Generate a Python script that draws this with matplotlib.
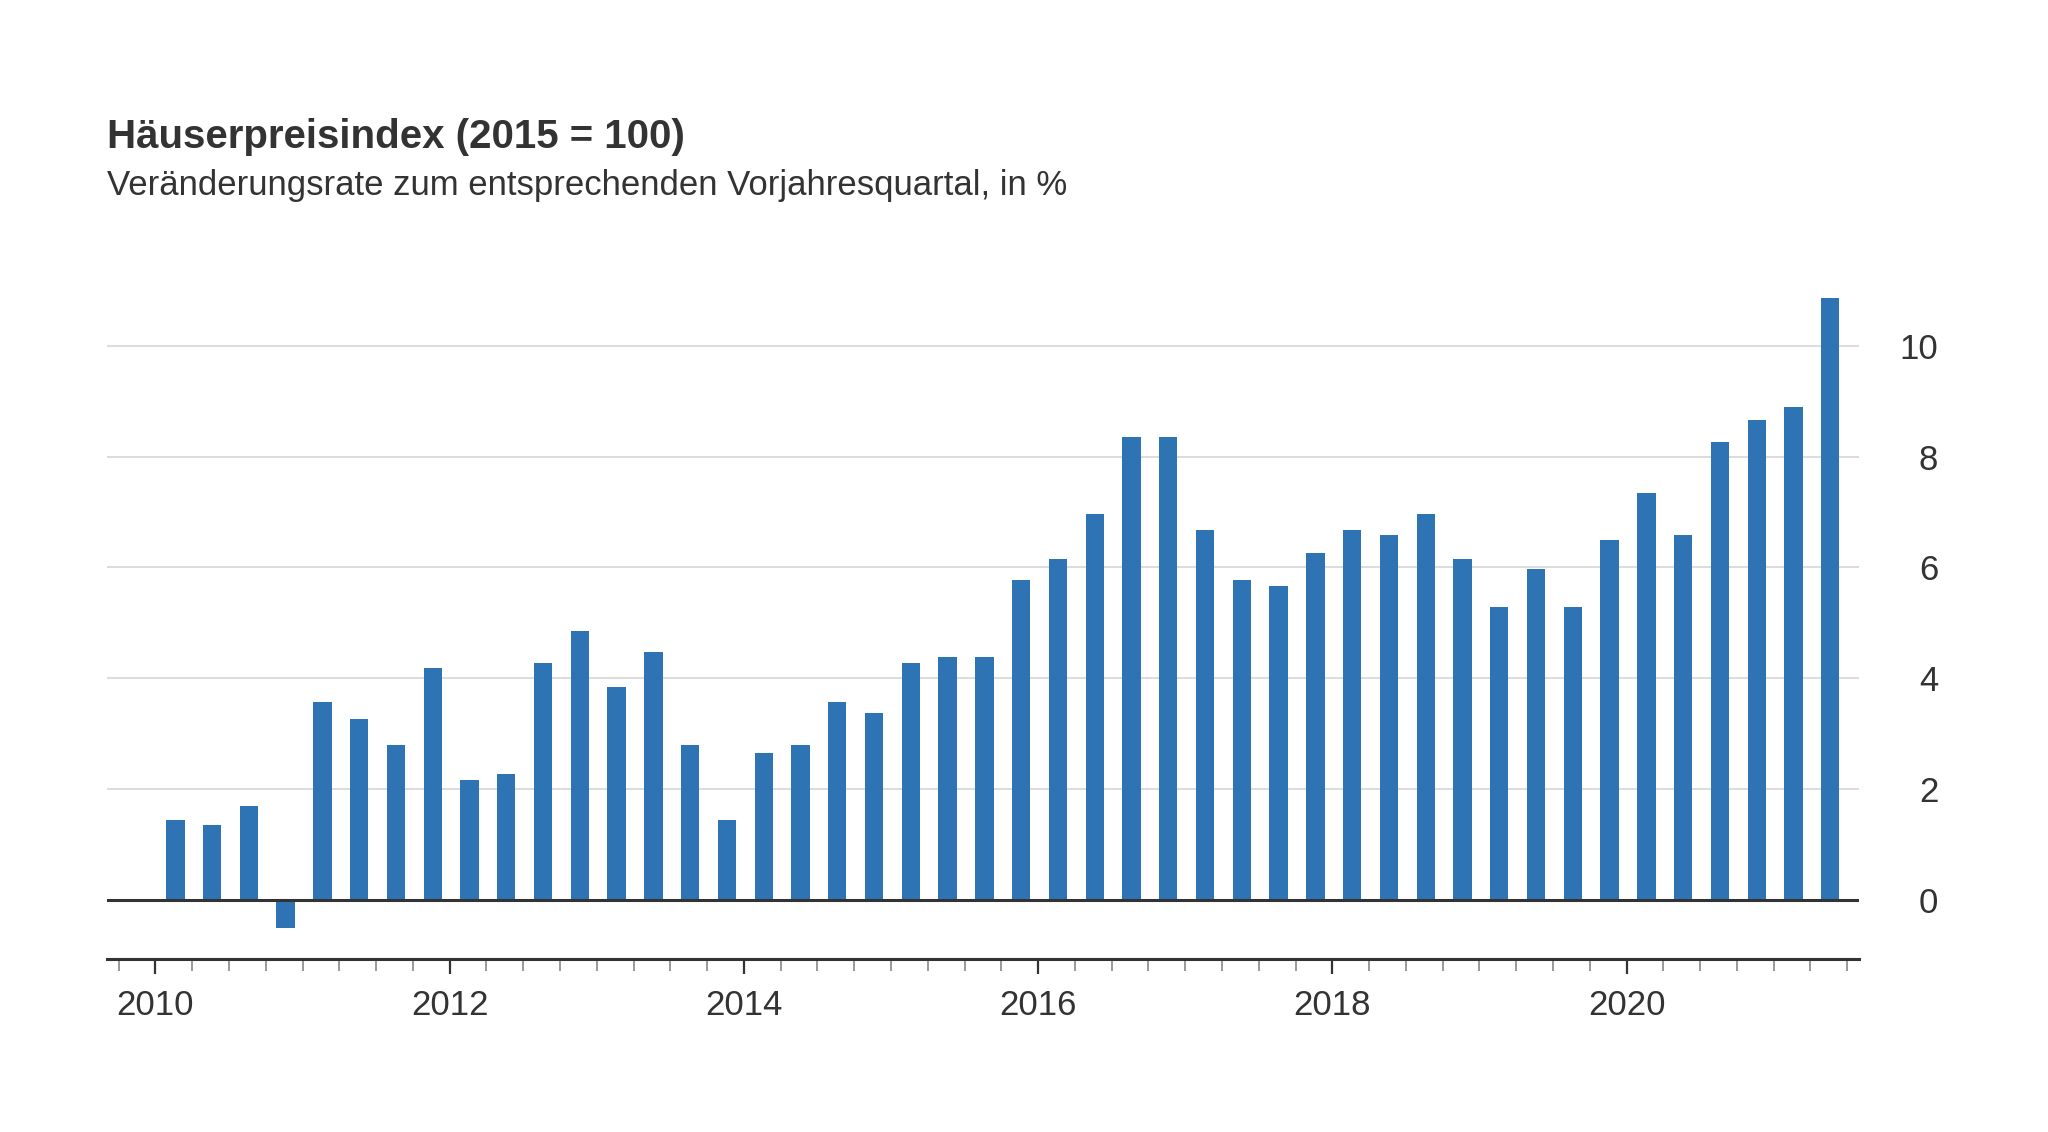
import matplotlib
matplotlib.use("Agg")
import matplotlib.pyplot as plt
import numpy as np

plt.rcParams['font.family'] = ['Liberation Sans', 'DejaVu Sans']

# quarterly change rates, 2010 Q1 .. 2021 Q2
years = [2010] * 4 + [2011] * 4 + [2012] * 4 + [2013] * 4 + [2014] * 4 + [2015] * 4 + \
        [2016] * 4 + [2017] * 4 + [2018] * 4 + [2019] * 4 + [2020] * 4 + [2021] * 2
quarters = [1, 2, 3, 4] * 11 + [1, 2]
values = [1.45, 1.35, 1.69, -0.51,
          3.57, 3.27, 2.80, 4.18,
          2.17, 2.27, 4.28, 4.85,
          3.85, 4.47, 2.80, 1.45,
          2.65, 2.80, 3.57, 3.37,
          4.28, 4.38, 4.38, 5.77,
          6.15, 6.96, 8.36, 8.36,
          6.67, 5.77, 5.67, 6.26,
          6.68, 6.59, 6.97, 6.16,
          5.29, 5.97, 5.29, 6.49,
          7.35, 6.59, 8.27, 8.66,
          8.89, 10.87]
year_ticks = [2010, 2012, 2014, 2016, 2018, 2020]
y_ticks = [0, 2, 4, 6, 8, 10]

title = 'Häuserpreisindex (2015 = 100)'
subtitle = 'Veränderungsrate zum entsprechenden Vorjahresquartal, in %'

text_color = '#333333'
bar_color = '#2e74b5'

x = np.array(years) + (np.array(quarters) - 1) * 0.25 + 0.135

fig = plt.figure(figsize=(20.48, 11.32), dpi=100)
ax = fig.add_axes([0.0522, 0.1530, 0.8555, 0.6003])

ax.bar(x, values, width=0.125, color=bar_color, zorder=2)

ax.set_xlim(2009.67, 2021.58)
ax.set_ylim(-1.06, 11.2)

# grid
for t in y_ticks[1:]:
    ax.axhline(t, color='#d9d9d9', lw=1.3, zorder=0)
ax.axhline(0, color=text_color, lw=2.2, zorder=3)

for s in ['top', 'left', 'right']:
    ax.spines[s].set_visible(False)
ax.spines['bottom'].set_color(text_color)
ax.spines['bottom'].set_linewidth(2.2)

ax.set_xticks(year_ticks)
ax.set_xticklabels([str(y) for y in year_ticks])
ax.set_xticks(np.arange(2009.75, 2021.6, 0.25), minor=True)
ax.tick_params(axis='x', which='major', length=11, width=1.6, color=text_color,
               labelsize=25, labelcolor=text_color, pad=11)
ax.tick_params(axis='x', which='minor', length=8.5, width=1.4, color='#999999')

ax.yaxis.tick_right()
ax.set_yticks(y_ticks)
ax.tick_params(axis='y', length=0, labelsize=25, labelcolor=text_color, pad=57)
for lab in ax.get_yticklabels():
    lab.set_horizontalalignment('right')

fig.text(0.0522, 0.8695, title, fontsize=29, fontweight='bold', color=text_color)
fig.text(0.0522, 0.8281, subtitle, fontsize=25, color=text_color)

fig.savefig('out.png', dpi=100)
